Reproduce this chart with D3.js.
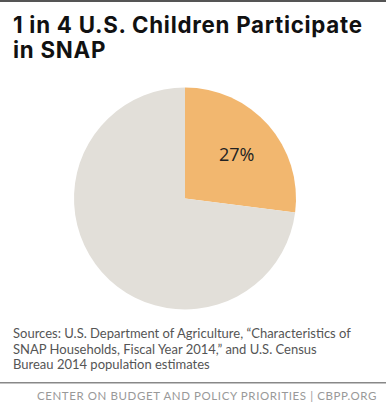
<!DOCTYPE html>
<html><head><meta charset="utf-8">
<script src="https://cdn.jsdelivr.net/npm/d3@7"></script>
<style>body{margin:0;background:#fff;} svg{display:block;}</style>
</head><body>
<script>
const categories = ["Children participating in SNAP", "Other children"];
const values = [27, 73];
const labels = ["27%", ""];
const colors = ["#f2b76f", "#e2dfd9"];
const titleLines = ["1 in 4 U.S. Children Participate", "in SNAP"];
const sourceLines = ["Sources: U.S. Department of Agriculture, \u201cCharacteristics of", "SNAP Households, Fiscal Year 2014,\u201d and U.S. Census", "Bureau 2014 population estimates"];
const footer = "CENTER ON BUDGET AND POLICY PRIORITIES | CBPP.ORG";

const W = 386, H = 415;
const svg = d3.select("body").append("svg").attr("width", W).attr("height", H);
svg.append("rect").attr("width", W).attr("height", H).attr("fill", "#fff");
svg.append("rect").attr("x", 0).attr("y", 0).attr("width", W).attr("height", 2).attr("fill", "#555");

const title = svg.append("g").selectAll("text").data(titleLines).join("text")
  .attr("x", 13).attr("y", (d, i) => 33 + i * 25)
  .attr("font-family", "Inter, sans-serif").attr("font-weight", 700).attr("font-size", 22.3)
  .attr("fill", "#111").text(d => d);
// spread first line to reference width via letter spacing
const n0 = title.nodes()[0];
const w0 = n0.getComputedTextLength();
const ls = Math.max(0, (349 - w0) / (titleLines[0].length - 1));
title.attr("letter-spacing", ls);

const cx = 185, cy = 198.5, r = 111;
const pie = d3.pie().sort(null).value(d => d.v);
const arcs = pie(values.map((v, i) => ({v, i})));
const arc = d3.arc().innerRadius(0).outerRadius(r);
const g = svg.append("g").attr("transform", `translate(${cx},${cy})`);
g.selectAll("path").data(arcs).join("path")
  .attr("d", arc).attr("fill", d => colors[d.data.i]);
const labelArc = d3.arc().innerRadius(r * 0.62).outerRadius(r * 0.62);
g.selectAll("text").data(arcs.filter(d => labels[d.data.i])).join("text")
  .attr("transform", d => { const c = labelArc.centroid(d); return `translate(${c[0]},${c[1] + 2})`; })
  .attr("text-anchor", "middle").attr("dy", "0.35em")
  .attr("font-family", "'Open Sans', sans-serif").attr("font-size", 18)
  .attr("fill", "#222").text(d => labels[d.data.i]);

svg.append("g").selectAll("text").data(sourceLines).join("text")
  .attr("x", 13).attr("y", (d, i) => 338 + i * 15.5)
  .attr("font-family", "Lato, sans-serif").attr("font-size", 13)
  .attr("fill", "#555").text(d => d);

svg.append("rect").attr("x", 0).attr("y", 382).attr("width", W).attr("height", 1.5).attr("fill", "#888");
svg.append("text").attr("x", 377).attr("y", 400).attr("text-anchor", "end")
  .attr("font-family", "Lato, sans-serif").attr("font-size", 11.5).attr("letter-spacing", 0.6)
  .attr("fill", "#999").text(footer);
</script>
</body></html>
